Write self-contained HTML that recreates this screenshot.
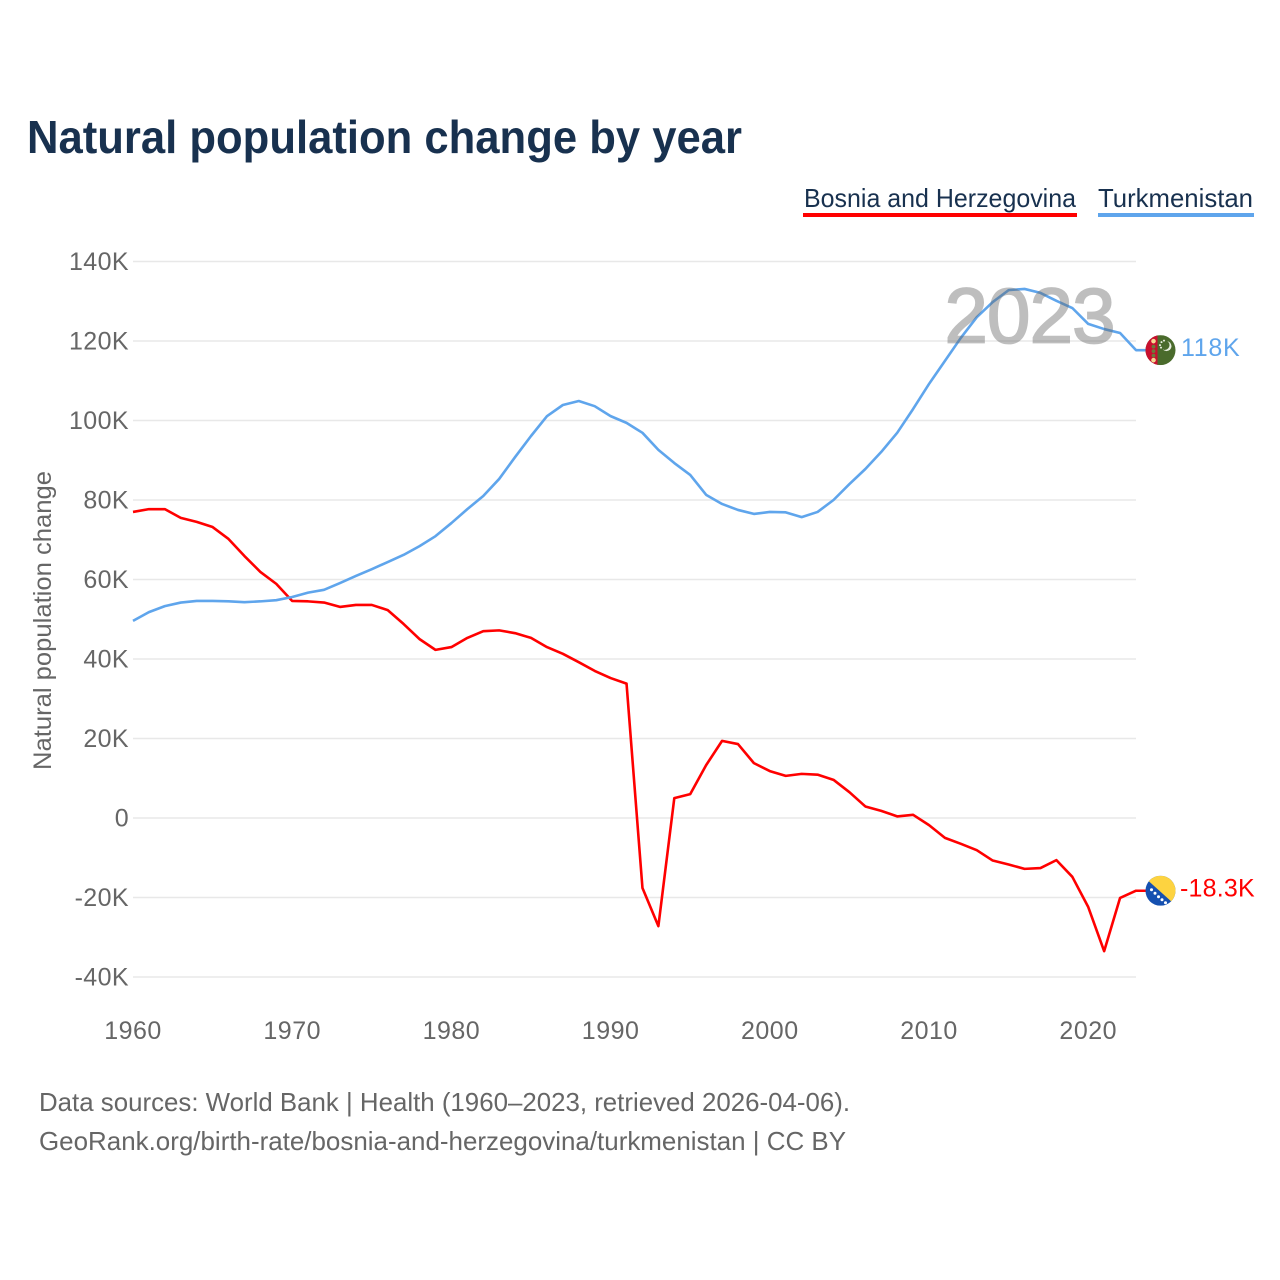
<!DOCTYPE html>
<html lang="en">
<head>
<meta charset="utf-8">
<title>Natural population change by year</title>
<style>
html,body{margin:0;padding:0;background:#fff;}
svg{display:block;font-family:"Liberation Sans",sans-serif;}
</style>
</head>
<body>
<svg id="chart" xmlns="http://www.w3.org/2000/svg" width="1280" height="1280" viewBox="0 0 1280 1280">
  <rect x="0" y="0" width="1280" height="1280" fill="#ffffff"/>
  <text x="27" y="153" font-size="46" font-weight="700" fill="#18314f" textLength="715" lengthAdjust="spacingAndGlyphs">Natural population change by year</text>

  <g>
    <g>
      <text x="804" y="207" font-size="26" fill="#18314f" textLength="272" lengthAdjust="spacingAndGlyphs">Bosnia and Herzegovina</text>
      <rect x="803" y="213" width="274" height="4" fill="#ff0000"/>
    </g>
    <g>
      <text x="1098" y="207" font-size="26" fill="#18314f" textLength="155" lengthAdjust="spacingAndGlyphs">Turkmenistan</text>
      <rect x="1098" y="213" width="156" height="4" fill="#5fa5ec"/>
    </g>
  </g>

  <g id="grid"></g>
  <g id="yticks"></g>
  <g id="xticks"></g>

  <text transform="translate(51,770) rotate(-90)" font-size="25" fill="#666666" textLength="299" lengthAdjust="spacingAndGlyphs">Natural population change</text>

  <g id="series"></g>

  <text x="1030" y="342.5" text-anchor="middle" font-size="78" font-weight="400" fill="#666666" stroke="#666666" stroke-width="1.8" opacity="0.42" letter-spacing="0" textLength="171" lengthAdjust="spacing">2023</text>

  <defs>
    <clipPath id="clip-tm"><circle cx="0" cy="0" r="15"/></clipPath>
    <clipPath id="clip-ba"><circle cx="0" cy="0" r="15"/></clipPath>
  </defs>

  <g id="flag-tm">
    <g clip-path="url(#clip-tm)">
      <rect x="-15" y="-15" width="30" height="30" fill="#4a6b2c"/>
      <rect x="-15" y="-15" width="12" height="30" fill="#c8102e"/>
      <circle cx="-7" cy="-9" r="2.3" fill="#f5d890"/>
      <circle cx="-7" cy="-3.5" r="1.9" fill="#6d7a3a"/>
      <circle cx="-7" cy="1" r="1.9" fill="#6d7a3a"/>
      <circle cx="-7" cy="5.5" r="1.9" fill="#6d7a3a"/>
      <circle cx="-7" cy="10" r="2.3" fill="#f5d890"/>
      <circle cx="6" cy="-4" r="5" fill="#e8efe0"/>
      <circle cx="4.2" cy="-5" r="4.8" fill="#4a6b2c"/>
      <circle cx="1" cy="-8" r="1" fill="#e8efe0"/>
      <circle cx="-0.5" cy="-5" r="1" fill="#e8efe0"/>
      <circle cx="3.5" cy="-9.5" r="1" fill="#e8efe0"/>
      <circle cx="0.5" cy="-2.5" r="1" fill="#e8efe0"/>
    </g>
  </g>

  <g id="flag-ba">
    <g clip-path="url(#clip-ba)">
      <rect x="-15" y="-15" width="30" height="30" fill="#1550b0"/>
      <polygon points="-15,-12.5 -15,-15 15,-15 15,14.5" fill="#fdd340"/>
      <circle cx="-9" cy="-1" r="1.5" fill="#fff"/>
      <circle cx="-5.5" cy="2.5" r="1.5" fill="#fff"/>
      <circle cx="-2" cy="6" r="1.5" fill="#fff"/>
      <circle cx="1.5" cy="9" r="1.5" fill="#fff"/>
      <circle cx="5" cy="12" r="1.5" fill="#fff"/>
    </g>
  </g>

  <text id="label-tm" x="1181" font-size="25" fill="#5fa5ec"></text>
  <text id="label-ba" x="1180" font-size="25" fill="#ff0000"></text>

  <text x="39" y="1111" font-size="26" fill="#666666" textLength="811" lengthAdjust="spacingAndGlyphs">Data sources: World Bank | Health (1960–2023, retrieved 2026-04-06).</text>
  <text x="39" y="1150" font-size="26" fill="#666666" textLength="807" lengthAdjust="spacingAndGlyphs">GeoRank.org/birth-rate/bosnia-and-herzegovina/turkmenistan | CC BY</text>
</svg>

<script>
const startYear = 1960;
const yTickValues = [140, 120, 100, 80, 60, 40, 20, 0, -20, -40];
const yTickLabels = ["140K", "120K", "100K", "80K", "60K", "40K", "20K", "0", "-20K", "-40K"];
const xTickYears = [1960, 1970, 1980, 1990, 2000, 2010, 2020];
const bosniaValues = [
  77.0, 77.7, 77.7, 75.5, 74.5, 73.2, 70.2, 65.9, 61.9, 58.9,
  54.6, 54.5, 54.2, 53.1, 53.6, 53.6, 52.3, 48.8, 45.0, 42.3,
  43.0, 45.3, 47.0, 47.2, 46.5, 45.3, 43.0, 41.3, 39.2, 37.0,
  35.2, 33.8, -17.6, -27.2, 5.0, 6.0, 13.3, 19.4, 18.6, 13.8,
  11.8, 10.6, 11.1, 10.9, 9.6, 6.5, 2.9, 1.8, 0.4, 0.8,
  -1.8, -5.0, -6.5, -8.1, -10.7, -11.7, -12.8, -12.6, -10.6, -14.8,
  -22.4, -33.5, -20.1, -18.3
];
const turkmenistanValues = [
  49.6, 51.8, 53.3, 54.2, 54.6, 54.6, 54.5, 54.3, 54.5, 54.8,
  55.6, 56.7, 57.4, 59.1, 60.9, 62.6, 64.4, 66.2, 68.4, 70.9,
  74.2, 77.7, 81.0, 85.3, 90.8, 96.1, 101.1, 103.9, 104.9, 103.6,
  101.1, 99.4, 96.9, 92.6, 89.3, 86.3, 81.3, 79.0, 77.5, 76.5,
  77.0, 76.9, 75.7, 77.0, 80.0, 84.0, 87.8, 92.1, 96.9, 102.9,
  109.2, 115.0, 120.8, 126.0, 129.8, 132.8, 133.1, 132.1, 130.1, 128.3,
  124.3, 123.0, 122.0, 117.7
];
const bosniaEndLabel = "-18.3K";
const turkmenistanEndLabel = "118K";

const SVG_NS = "http://www.w3.org/2000/svg";
function xScale(year) { return 133 + (year - startYear) * (1136 - 133) / 63; }
function yScale(value) { return 818 - value * 3.975; }

function make(tag, attrs, parent, text) {
  const el = document.createElementNS(SVG_NS, tag);
  for (const k in attrs) el.setAttribute(k, attrs[k]);
  if (text !== undefined) el.textContent = text;
  parent.appendChild(el);
  return el;
}

const gridGroup = document.getElementById("grid");
const yTickGroup = document.getElementById("yticks");
const xTickGroup = document.getElementById("xticks");
const seriesGroup = document.getElementById("series");

yTickValues.forEach(function (v, i) {
  const line = make("line", { x1: 133, x2: 1136, y1: yScale(v), y2: yScale(v), stroke: "#e8e8e8", "stroke-width": 1.6 }, gridGroup);
  
  
  const label = make("text", { x: 129, y: yScale(v) + 8.5, "text-anchor": "end", "font-size": 25, "letter-spacing": 0.4, fill: "#666666" }, yTickGroup, yTickLabels[i]);
  
  
});

xTickYears.forEach(function (year) {
  const label = make("text", { x: xScale(year), y: 1039, "text-anchor": "middle", "font-size": 25, "letter-spacing": 0.5, fill: "#666666" }, xTickGroup, String(year));
  
  
});

function linePoints(values) {
  const pts = values.map(function (v, i) {
    return xScale(startYear + i).toFixed(2) + "," + yScale(v).toFixed(2);
  });
  pts.push("1147," + yScale(values[values.length - 1]).toFixed(2));
  return pts.join(" ");
}

const bosniaLine = make("polyline", { points: linePoints(bosniaValues), fill: "none", stroke: "#ff0000", "stroke-width": 2.6, "stroke-linejoin": "round" }, seriesGroup);



const turkmenistanLine = make("polyline", { points: linePoints(turkmenistanValues), fill: "none", stroke: "#5fa5ec", "stroke-width": 2.6, "stroke-linejoin": "round" }, seriesGroup);



const lastBosnia = bosniaValues[bosniaValues.length - 1];
const lastTurkmenistan = turkmenistanValues[turkmenistanValues.length - 1];

document.getElementById("flag-tm").setAttribute("transform", "translate(1160.5," + yScale(lastTurkmenistan) + ")");
document.getElementById("flag-ba").setAttribute("transform", "translate(1160.5," + yScale(lastBosnia) + ")");

const labelTm = document.getElementById("label-tm");
labelTm.setAttribute("y", yScale(lastTurkmenistan) + 6);
labelTm.setAttribute("letter-spacing", 0.7);
labelTm.textContent = turkmenistanEndLabel;

const labelBa = document.getElementById("label-ba");
labelBa.setAttribute("y", yScale(lastBosnia) + 6);
labelBa.setAttribute("letter-spacing", 0.2);
labelBa.textContent = bosniaEndLabel;
</script>
</body>
</html>
